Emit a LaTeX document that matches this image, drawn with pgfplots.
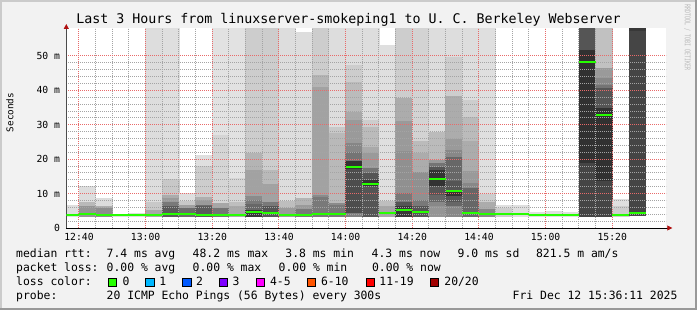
\documentclass[border=0pt]{standalone}
\usepackage{pgfplots}
\pgfplotsset{compat=1.18}
\usepackage{fontspec}
\setmainfont{DejaVu Sans Mono}
\usetikzlibrary{arrows.meta}
\definecolor{bgc}{HTML}{F2F2F2}
\definecolor{shadea}{HTML}{CBCBCB}
\definecolor{shadeb}{HTML}{999999}
\definecolor{mgrid}{HTML}{E86A6A}
\definecolor{ngrid}{HTML}{A4A4A4}
\definecolor{arrowc}{HTML}{B01010}
\definecolor{lc0}{HTML}{26FF00}
\definecolor{lc1}{HTML}{00B8FF}
\definecolor{lc2}{HTML}{0059FF}
\definecolor{lc3}{HTML}{7E00FF}
\definecolor{lc4}{HTML}{FF00FF}
\definecolor{lc6}{HTML}{FF5500}
\definecolor{lc11}{HTML}{FF0000}
\definecolor{lc20}{HTML}{A10000}
\newcommand\fTitle{\fontsize{13.3bp}{16bp}\selectfont}
\newcommand\fLeg{\fontsize{11.4bp}{14bp}\selectfont}
\newcommand\fTick{\fontsize{9.75bp}{11bp}\selectfont}
\newcommand\fUnit{\fontsize{9.3bp}{11bp}\selectfont}
\newcommand\fWm{\fontsize{7.8bp}{9bp}\selectfont}
\pgfplotsset{rrdframe/.style={
  at={(0,0)}, anchor=south west,
  width=600bp, height=200bp, scale only axis,
  xmin=36.2, xmax=216.2, ymin=0, ymax=58.14}}
\begin{document}
\begin{tikzpicture}
\path[use as bounding box] (-66.3bp,-82bp) rectangle (630.7bp,228bp);
\fill[bgc] (-66.3bp,-82bp) rectangle (630.7bp,228bp);
\fill[shadea] (-66.3bp,-82bp) rectangle (-64.3bp,228bp);
\fill[shadea] (-66.3bp,226bp) rectangle (630.7bp,228bp);
\fill[shadeb] (628.7bp,-82bp) rectangle (630.7bp,228bp);
\fill[shadeb] (-66.3bp,-82bp) rectangle (630.7bp,-80bp);
\begin{axis}[
  rrdframe,
  axis on top,
  axis background/.style={fill=white},
  axis lines*=left,
  x axis line style={black, line width=0.8bp, -{Triangle[length=5bp,width=5bp,color=arrowc]}, shorten >=-6bp},
  y axis line style={black!70, line width=0.8bp, -{Triangle[length=5bp,width=5bp,color=arrowc]}, shorten >=-4bp},
  xtick={40,60,80,100,120,140,160,180,200},
  xticklabels={12:40,13:00,13:20,13:40,14:00,14:20,14:40,15:00,15:20},
  minor x tick num=3,
  ytick={0,10,20,30,40,50},
  yticklabels={0,10 m,20 m,30 m,40 m,50 m},
  minor y tick num=4,
  grid=both,
  major grid style={mgrid, line width=1bp, dash pattern=on 1bp off 1bp},
  minor grid style={ngrid, line width=1bp, dash pattern=on 1bp off 1bp},
  major tick length=0pt, minor tick length=0pt,
  xticklabel style={font=\fTick, inner sep=0pt, anchor=north, yshift=-5bp},
  yticklabel style={font=\fTick, inner sep=0pt, anchor=east, xshift=-6bp},
  colormap={bw}{gray(0cm)=(0); gray(1cm)=(1)},
  point meta min=0, point meta max=1,
]
\addplot[patch, patch type=rectangle, shader=flat, point meta=explicit] coordinates {
(35,3.5)[.87] (40,3.5)[.87] (40,6.7)[.87] (35,6.7)[.87]
(40,3.5)[.58] (45,3.5)[.58] (45,6.5)[.58] (40,6.5)[.58]
(40,6.5)[.72] (45,6.5)[.72] (45,7.7)[.72] (40,7.7)[.72]
(40,7.7)[.86] (45,7.7)[.86] (45,12.1)[.86] (40,12.1)[.86]
(45,3.5)[.55] (50,3.5)[.55] (50,6.0)[.55] (45,6.0)[.55]
(45,6.0)[.68] (50,6.0)[.68] (50,6.5)[.68] (45,6.5)[.68]
(45,6.5)[.86] (50,6.5)[.86] (50,8.7)[.86] (45,8.7)[.86]
(50,3.5)[.86] (55,3.5)[.86] (55,4.1)[.86] (50,4.1)[.86]
(55,3.5)[.86] (60,3.5)[.86] (60,4.4)[.86] (55,4.4)[.86]
(60,3.5)[.65] (65,3.5)[.65] (65,5.5)[.65] (60,5.5)[.65]
(60,5.5)[.78] (65,5.5)[.78] (65,7.9)[.78] (60,7.9)[.78]
(60,7.9)[.86] (65,7.9)[.86] (65,58.2)[.86] (60,58.2)[.86]
(65,3.5)[.35] (70,3.5)[.35] (70,6.5)[.35] (65,6.5)[.35]
(65,6.5)[.47] (70,6.5)[.47] (70,7.9)[.47] (65,7.9)[.47]
(65,7.9)[.6] (70,7.9)[.6] (70,8.9)[.6] (65,8.9)[.6]
(65,8.9)[.67] (70,8.9)[.67] (70,9.7)[.67] (65,9.7)[.67]
(65,9.7)[.78] (70,9.7)[.78] (70,14.5)[.78] (65,14.5)[.78]
(65,14.5)[.87] (70,14.5)[.87] (70,58.2)[.87] (65,58.2)[.87]
(70,3.5)[.42] (75,3.5)[.42] (75,6.0)[.42] (70,6.0)[.42]
(70,6.0)[.62] (75,6.0)[.62] (75,7.0)[.62] (70,7.0)[.62]
(70,7.0)[.78] (75,7.0)[.78] (75,8.0)[.78] (70,8.0)[.78]
(70,8.0)[.87] (75,8.0)[.87] (75,10.2)[.87] (70,10.2)[.87]
(75,3.5)[.35] (80,3.5)[.35] (80,6.5)[.35] (75,6.5)[.35]
(75,6.5)[.42] (80,6.5)[.42] (80,7.0)[.42] (75,7.0)[.42]
(75,7.0)[.6] (80,7.0)[.6] (80,8.4)[.6] (75,8.4)[.6]
(75,8.4)[.68] (80,8.4)[.68] (80,9.1)[.68] (75,9.1)[.68]
(75,9.1)[.8] (80,9.1)[.8] (80,18.4)[.8] (75,18.4)[.8]
(75,18.4)[.87] (80,18.4)[.87] (80,21.2)[.87] (75,21.2)[.87]
(80,3.5)[.45] (85,3.5)[.45] (85,6.0)[.45] (80,6.0)[.45]
(80,6.0)[.65] (85,6.0)[.65] (85,7.5)[.65] (80,7.5)[.65]
(80,7.5)[.83] (85,7.5)[.83] (85,27.3)[.83] (80,27.3)[.83]
(80,27.3)[.88] (85,27.3)[.88] (85,58.2)[.88] (80,58.2)[.88]
(85,3.5)[.66] (90,3.5)[.66] (90,6.5)[.66] (85,6.5)[.66]
(85,6.5)[.74] (90,6.5)[.74] (90,7.9)[.74] (85,7.9)[.74]
(85,7.9)[.83] (90,7.9)[.83] (90,14.9)[.83] (85,14.9)[.83]
(85,14.9)[.88] (90,14.9)[.88] (90,58.2)[.88] (85,58.2)[.88]
(90,3.5)[.22] (95,3.5)[.22] (95,5.5)[.22] (90,5.5)[.22]
(90,5.5)[.4] (95,5.5)[.4] (95,7.2)[.4] (90,7.2)[.4]
(90,7.2)[.47] (95,7.2)[.47] (95,8.4)[.47] (90,8.4)[.47]
(90,8.4)[.54] (95,8.4)[.54] (95,9.4)[.54] (90,9.4)[.54]
(90,9.4)[.63] (95,9.4)[.63] (95,17.2)[.63] (90,17.2)[.63]
(90,17.2)[.7] (95,17.2)[.7] (95,22.0)[.7] (90,22.0)[.7]
(90,22.0)[.8] (95,22.0)[.8] (95,58.2)[.8] (90,58.2)[.8]
(95,3.5)[.33] (100,3.5)[.33] (100,6.5)[.33] (95,6.5)[.33]
(95,6.5)[.47] (100,6.5)[.47] (100,7.8)[.47] (95,7.8)[.47]
(95,7.8)[.63] (100,7.8)[.63] (100,13.0)[.63] (95,13.0)[.63]
(95,13.0)[.72] (100,13.0)[.72] (100,17.0)[.72] (95,17.0)[.72]
(95,17.0)[.8] (100,17.0)[.8] (100,58.2)[.8] (95,58.2)[.8]
(100,3.5)[.6] (105,3.5)[.6] (105,6.0)[.6] (100,6.0)[.6]
(100,6.0)[.74] (105,6.0)[.74] (105,8.1)[.74] (100,8.1)[.74]
(100,8.1)[.86] (105,8.1)[.86] (105,58.2)[.86] (100,58.2)[.86]
(105,3.5)[.47] (110,3.5)[.47] (110,5.7)[.47] (105,5.7)[.47]
(105,5.7)[.6] (110,5.7)[.6] (110,7.0)[.6] (105,7.0)[.6]
(105,7.0)[.7] (110,7.0)[.7] (110,8.9)[.7] (105,8.9)[.7]
(105,8.9)[.86] (110,8.9)[.86] (110,56.9)[.86] (105,56.9)[.86]
(110,3.5)[.47] (115,3.5)[.47] (115,9.1)[.47] (110,9.1)[.47]
(110,9.1)[.54] (115,9.1)[.54] (115,9.9)[.54] (110,9.9)[.54]
(110,9.9)[.63] (115,9.9)[.63] (115,41.2)[.63] (110,41.2)[.63]
(110,41.2)[.7] (115,41.2)[.7] (115,44.8)[.7] (110,44.8)[.7]
(110,44.8)[.8] (115,44.8)[.8] (115,58.2)[.8] (110,58.2)[.8]
(115,3.5)[.47] (120,3.5)[.47] (120,7.0)[.47] (115,7.0)[.47]
(115,7.0)[.54] (120,7.0)[.54] (120,7.5)[.54] (115,7.5)[.54]
(115,7.5)[.72] (120,7.5)[.72] (120,27.8)[.72] (115,27.8)[.72]
(115,27.8)[.78] (120,27.8)[.78] (120,29.7)[.78] (115,29.7)[.78]
(115,29.7)[.86] (120,29.7)[.86] (120,58.2)[.86] (115,58.2)[.86]
(120,3.5)[.5] (125,3.5)[.5] (125,4.6)[.5] (120,4.6)[.5]
(120,4.6)[.3] (125,4.6)[.3] (125,17.4)[.3] (120,17.4)[.3]
(120,17.4)[.2] (125,17.4)[.2] (125,19.8)[.2] (120,19.8)[.2]
(120,19.8)[.45] (125,19.8)[.45] (125,22.3)[.45] (120,22.3)[.45]
(120,22.3)[.52] (125,22.3)[.52] (125,24.9)[.52] (120,24.9)[.52]
(120,24.9)[.6] (125,24.9)[.6] (125,31.7)[.6] (120,31.7)[.6]
(120,31.7)[.66] (125,31.7)[.66] (125,33.9)[.66] (120,33.9)[.66]
(120,33.9)[.73] (125,33.9)[.73] (125,42.8)[.73] (120,42.8)[.73]
(120,42.8)[.8] (125,42.8)[.8] (125,47.7)[.8] (120,47.7)[.8]
(120,47.7)[.86] (125,47.7)[.86] (125,58.2)[.86] (120,58.2)[.86]
(125,3.5)[.33] (130,3.5)[.33] (130,12.3)[.33] (125,12.3)[.33]
(125,12.3)[.2] (130,12.3)[.2] (130,14.2)[.2] (125,14.2)[.2]
(125,14.2)[.33] (130,14.2)[.33] (130,16.2)[.33] (125,16.2)[.33]
(125,16.2)[.45] (130,16.2)[.45] (130,17.6)[.45] (125,17.6)[.45]
(125,17.6)[.6] (130,17.6)[.6] (130,22.0)[.6] (125,22.0)[.6]
(125,22.0)[.66] (130,22.0)[.66] (130,23.9)[.66] (125,23.9)[.66]
(125,23.9)[.73] (130,23.9)[.73] (130,29.7)[.73] (125,29.7)[.73]
(125,29.7)[.8] (130,29.7)[.8] (130,31.7)[.8] (125,31.7)[.8]
(125,31.7)[.86] (130,31.7)[.86] (130,58.2)[.86] (125,58.2)[.86]
(130,3.5)[.65] (135,3.5)[.65] (135,6.5)[.65] (130,6.5)[.65]
(130,6.5)[.74] (135,6.5)[.74] (135,8.1)[.74] (130,8.1)[.74]
(130,8.1)[.87] (135,8.1)[.87] (135,53.0)[.87] (130,53.0)[.87]
(135,3.5)[.22] (140,3.5)[.22] (140,6.7)[.22] (135,6.7)[.22]
(135,6.7)[.33] (140,6.7)[.33] (140,7.9)[.33] (135,7.9)[.33]
(135,7.9)[.47] (140,7.9)[.47] (140,10.4)[.47] (135,10.4)[.47]
(135,10.4)[.56] (140,10.4)[.56] (140,22.7)[.56] (135,22.7)[.56]
(135,22.7)[.6] (140,22.7)[.6] (140,31.2)[.6] (135,31.2)[.6]
(135,31.2)[.67] (140,31.2)[.67] (140,38.0)[.67] (135,38.0)[.67]
(135,38.0)[.8] (140,38.0)[.8] (140,58.2)[.8] (135,58.2)[.8]
(140,3.5)[.33] (145,3.5)[.33] (145,6.5)[.33] (140,6.5)[.33]
(140,6.5)[.47] (145,6.5)[.47] (145,8.4)[.47] (140,8.4)[.47]
(140,8.4)[.56] (145,8.4)[.56] (145,16.5)[.56] (140,16.5)[.56]
(140,16.5)[.67] (145,16.5)[.67] (145,22.0)[.67] (140,22.0)[.67]
(140,22.0)[.73] (145,22.0)[.73] (145,25.4)[.73] (140,25.4)[.73]
(140,25.4)[.82] (145,25.4)[.82] (145,58.2)[.82] (140,58.2)[.82]
(145,3.5)[.58] (150,3.5)[.58] (150,6.5)[.58] (145,6.5)[.58]
(145,6.5)[.53] (150,6.5)[.53] (150,7.9)[.53] (145,7.9)[.53]
(145,7.9)[.4] (150,7.9)[.4] (150,9.9)[.4] (145,9.9)[.4]
(145,9.9)[.33] (150,9.9)[.33] (150,12.3)[.33] (145,12.3)[.33]
(145,12.3)[.2] (150,12.3)[.2] (150,17.0)[.2] (145,17.0)[.2]
(145,17.0)[.33] (150,17.0)[.33] (150,18.1)[.33] (145,18.1)[.33]
(145,18.1)[.45] (150,18.1)[.45] (150,19.1)[.45] (145,19.1)[.45]
(145,19.1)[.6] (150,19.1)[.6] (150,20.1)[.6] (145,20.1)[.6]
(145,20.1)[.73] (150,20.1)[.73] (150,28.1)[.73] (145,28.1)[.73]
(145,28.1)[.86] (150,28.1)[.86] (150,58.2)[.86] (145,58.2)[.86]
(150,3.5)[.53] (155,3.5)[.53] (155,6.5)[.53] (150,6.5)[.53]
(150,6.5)[.4] (155,6.5)[.4] (155,7.9)[.4] (150,7.9)[.4]
(150,7.9)[.33] (155,7.9)[.33] (155,9.4)[.33] (150,9.4)[.33]
(150,9.4)[.2] (155,9.4)[.2] (155,11.0)[.2] (150,11.0)[.2]
(150,11.0)[.33] (155,11.0)[.33] (155,13.8)[.33] (150,13.8)[.33]
(150,13.8)[.4] (155,13.8)[.4] (155,20.9)[.4] (150,20.9)[.4]
(150,20.9)[.53] (155,20.9)[.53] (155,23.0)[.53] (150,23.0)[.53]
(150,23.0)[.6] (155,23.0)[.6] (155,26.2)[.6] (150,26.2)[.6]
(150,26.2)[.67] (155,26.2)[.67] (155,38.7)[.67] (150,38.7)[.67]
(150,38.7)[.8] (155,38.7)[.8] (155,49.8)[.8] (150,49.8)[.8]
(150,49.8)[.86] (155,49.8)[.86] (155,58.2)[.86] (150,58.2)[.86]
(155,3.5)[.4] (160,3.5)[.4] (160,11.8)[.4] (155,11.8)[.4]
(155,11.8)[.53] (160,11.8)[.53] (160,13.3)[.53] (155,13.3)[.53]
(155,13.3)[.6] (160,13.3)[.6] (160,16.7)[.6] (155,16.7)[.6]
(155,16.7)[.67] (160,16.7)[.67] (160,25.4)[.67] (155,25.4)[.67]
(155,25.4)[.73] (160,25.4)[.73] (160,32.4)[.73] (155,32.4)[.73]
(155,32.4)[.8] (160,32.4)[.8] (160,37.5)[.8] (155,37.5)[.8]
(155,37.5)[.86] (160,37.5)[.86] (160,58.2)[.86] (155,58.2)[.86]
(160,3.5)[.53] (165,3.5)[.53] (165,5.8)[.53] (160,5.8)[.53]
(160,5.8)[.67] (165,5.8)[.67] (165,7.9)[.67] (160,7.9)[.67]
(160,7.9)[.8] (165,7.9)[.8] (165,10.1)[.8] (160,10.1)[.8]
(160,10.1)[.87] (165,10.1)[.87] (165,58.2)[.87] (160,58.2)[.87]
(165,3.5)[.8] (170,3.5)[.8] (170,6.0)[.8] (165,6.0)[.8]
(165,6.0)[.87] (170,6.0)[.87] (170,6.7)[.87] (165,6.7)[.87]
(170,3.5)[.87] (175,3.5)[.87] (175,6.5)[.87] (170,6.5)[.87]
(175,3.5)[.87] (180,3.5)[.87] (180,4.6)[.87] (175,4.6)[.87]
(180,3.5)[.87] (185,3.5)[.87] (185,4.8)[.87] (180,4.8)[.87]
(185,3.5)[.87] (190,3.5)[.87] (190,4.6)[.87] (185,4.6)[.87]
(190,3.5)[.27] (195,3.5)[.27] (195,19.1)[.27] (190,19.1)[.27]
(190,19.1)[.19] (195,19.1)[.19] (195,52.0)[.19] (190,52.0)[.19]
(190,52.0)[.33] (195,52.0)[.33] (195,58.2)[.33] (190,58.2)[.33]
(195,3.5)[.27] (200,3.5)[.27] (200,14.0)[.27] (195,14.0)[.27]
(195,14.0)[.19] (200,14.0)[.19] (200,35.1)[.19] (195,35.1)[.19]
(195,35.1)[.33] (200,35.1)[.33] (200,40.9)[.33] (195,40.9)[.33]
(195,40.9)[.45] (200,40.9)[.45] (200,41.9)[.45] (195,41.9)[.45]
(195,41.9)[.53] (200,41.9)[.53] (200,43.8)[.53] (195,43.8)[.53]
(195,43.8)[.6] (200,43.8)[.6] (200,46.7)[.6] (195,46.7)[.6]
(195,46.7)[.75] (200,46.7)[.75] (200,58.2)[.75] (195,58.2)[.75]
(200,3.3)[.8] (205,3.3)[.8] (205,6.5)[.8] (200,6.5)[.8]
(200,6.5)[.87] (205,6.5)[.87] (205,8.4)[.87] (200,8.4)[.87]
(205,3.6)[.27] (210,3.6)[.27] (210,57.5)[.27] (205,57.5)[.27]
(205,57.5)[.22] (210,57.5)[.22] (210,58.2)[.22] (205,58.2)[.22]
};
\end{axis}
\begin{axis}[rrdframe, hide axis]
\addplot[jump mark left, draw=lc0, line width=2bp, mark=none] coordinates {
(35,3.9) (40,4.0) (45,3.9) (50,3.9) (55,3.9) (60,3.9) (65,4.2) (70,4.0)
(75,3.8) (80,3.9) (85,3.8) (90,4.6) (95,4.4) (100,3.7) (105,3.8) (110,4.0)
(115,4.1) (120,17.8) (125,12.8) (130,4.4) (135,5.2) (140,4.7) (145,14.2)
(150,10.9) (155,4.5) (160,4.2) (165,4.1) (170,4.1) (175,3.9) (180,3.8)
(185,3.8) (190,48.4) (195,32.8) (200,3.8) (205,4.4) (210,4.4)
};
\end{axis}
% title, unit label, watermark
\node[font=\fTitle, anchor=base, inner sep=0pt] at (282.2bp,204bp) {Last 3 Hours from linuxserver-smokeping1 to U. C. Berkeley Webserver};
\node[font=\fUnit, rotate=90, anchor=center, inner sep=0pt] at (-56.3bp,115.5bp) {Seconds};
\node[font=\fWm, rotate=-90, anchor=center, inner sep=0pt, text=black!28] at (621.2bp,190.5bp) {\scalebox{0.63}[1]{RRDTOOL / TOBI OETIKER}};
% legend lines
\begin{scope}[every node/.style={font=\fLeg, anchor=base west, inner sep=0pt}]
\node at (-50.3bp,-29.7bp) {median rtt:};
\node at (40.2bp,-29.7bp) {7.4 ms avg};
\node at (126.2bp,-29.7bp) {48.2 ms max};
\node at (218.9bp,-29.7bp) {3.8 ms min};
\node at (305.2bp,-29.7bp) {4.3 ms now};
\node at (391.2bp,-29.7bp) {9.0 ms sd};
\node at (469.6bp,-29.7bp) {821.5 m am/s};
\node at (-50.3bp,-43.6bp) {packet loss:};
\node at (40.2bp,-43.6bp) {0.00 \% avg};
\node at (126.2bp,-43.6bp) {0.00 \% max};
\node at (212.2bp,-43.6bp) {0.00 \% min};
\node at (305.6bp,-43.6bp) {0.00 \% now};
\node at (-50.3bp,-57.5bp) {loss color:};
\node at (56.2bp,-57.5bp) {0};
\node at (92.9bp,-57.5bp) {1};
\node at (129.6bp,-57.5bp) {2};
\node at (166.2bp,-57.5bp) {3};
\node at (203.6bp,-57.5bp) {4-5};
\node at (254.6bp,-57.5bp) {6-10};
\node at (312.9bp,-57.5bp) {11-19};
\node at (377.9bp,-57.5bp) {20/20};
\node at (-50.3bp,-71.4bp) {probe:};
\node at (40.2bp,-71.4bp) {20 ICMP Echo Pings (56 Bytes) every 300s};
\node at (446.2bp,-71.4bp) {Fri Dec 12 15:36:11 2025};
\end{scope}
\begin{scope}[line width=0.7bp]
\draw[black, fill=lc0] (42bp,-58.3bp) rectangle ++(8.3bp,8.3bp);
\draw[black, fill=lc1] (79.4bp,-58.3bp) rectangle ++(8.3bp,8.3bp);
\draw[black, fill=lc2] (116.4bp,-58.3bp) rectangle ++(8.3bp,8.3bp);
\draw[black, fill=lc3] (153bp,-58.3bp) rectangle ++(8.3bp,8.3bp);
\draw[black, fill=lc4] (189.7bp,-58.3bp) rectangle ++(8.3bp,8.3bp);
\draw[black, fill=lc6] (241bp,-58.3bp) rectangle ++(8.3bp,8.3bp);
\draw[black, fill=lc11] (299.7bp,-58.3bp) rectangle ++(8.3bp,8.3bp);
\draw[black, fill=lc20] (363.7bp,-58.3bp) rectangle ++(8.3bp,8.3bp);
\end{scope}
\end{tikzpicture}
\end{document}
